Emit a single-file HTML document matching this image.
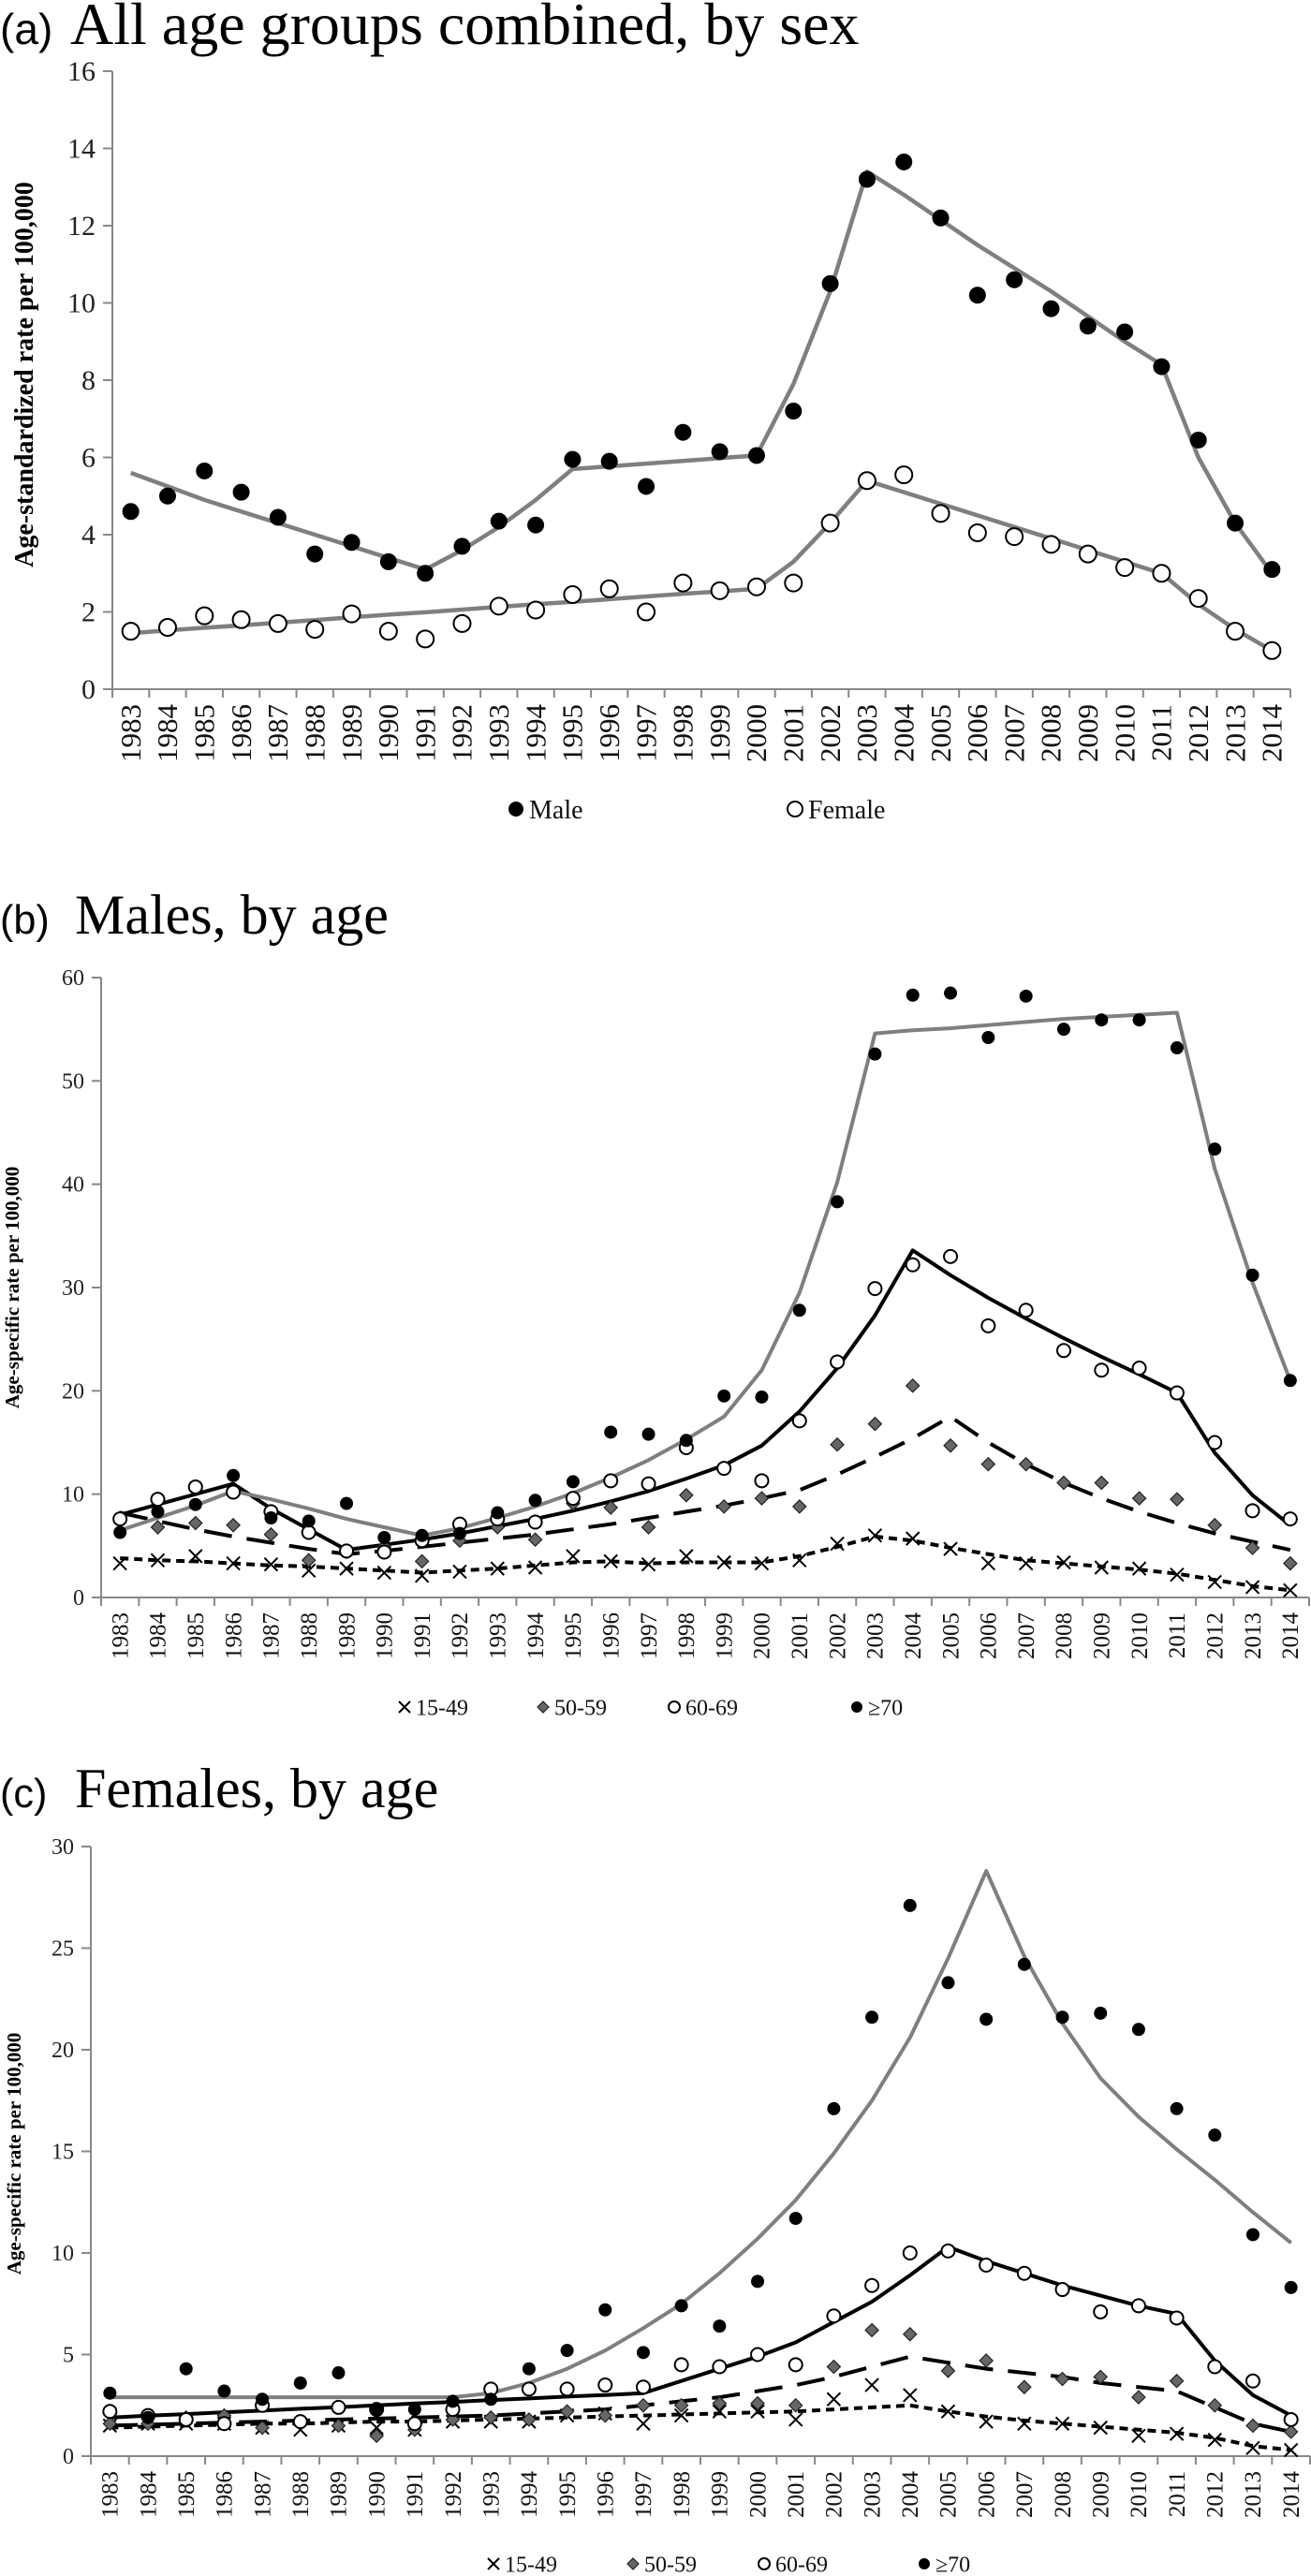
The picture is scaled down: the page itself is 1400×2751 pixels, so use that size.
<!DOCTYPE html>
<html><head><meta charset="utf-8"><style>
html,body{margin:0;padding:0;background:#fff}
svg{display:block}
</style></head><body>
<svg id="fig" xmlns="http://www.w3.org/2000/svg" width="1400" height="2751" viewBox="0 0 1400 2751">
<g id="pa"></g>
<g id="pb"></g>
<g id="pc"></g>
</svg>
<script>
const years=[1983,1984,1985,1986,1987,1988,1989,1990,1991,1992,1993,1994,1995,1996,1997,1998,1999,2000,2001,2002,2003,2004,2005,2006,2007,2008,2009,2010,2011,2012,2013,2014];
// Panel A
const aMale=[4.6,5.0,5.65,5.1,4.45,3.5,3.8,3.3,3.0,3.7,4.35,4.25,5.95,5.9,5.25,6.65,6.15,6.05,7.2,10.5,13.2,13.65,12.2,10.2,10.6,9.85,9.4,9.25,8.35,6.45,4.3,3.1];
const aMaleFit=[5.6,5.25,4.9,4.6,4.3,4.0,3.7,3.4,3.1,3.6,4.2,4.9,5.7,5.77,5.84,5.91,5.98,6.05,7.9,10.3,13.4,12.8,12.15,11.5,10.9,10.3,9.65,9.0,8.4,6.0,4.3,3.0];
const aFemale=[1.5,1.6,1.9,1.8,1.7,1.55,1.95,1.5,1.3,1.7,2.15,2.05,2.45,2.6,2.0,2.75,2.55,2.65,2.75,4.3,5.4,5.55,4.55,4.05,3.95,3.75,3.5,3.15,3.0,2.35,1.5,1.0];
const aFemaleFit=[1.45,1.52,1.59,1.65,1.72,1.79,1.86,1.93,1.99,2.06,2.13,2.2,2.26,2.33,2.4,2.47,2.53,2.6,3.3,4.3,5.4,5.1,4.8,4.5,4.2,3.9,3.6,3.3,3.0,2.2,1.55,1.0];
const aTicks=[0,2,4,6,8,10,12,14,16];
// Panel B (males)
const b70=[6.3,8.3,9.0,11.8,7.7,7.4,9.1,5.8,6.0,6.2,8.2,9.4,11.2,16.0,15.8,15.2,19.5,19.4,27.8,38.3,52.6,58.3,58.5,54.2,58.2,55.0,55.9,55.9,53.2,43.4,31.2,21.0];
const b70Fit=[6.5,7.7,8.9,10.3,9.5,8.6,7.6,6.8,6.0,6.7,7.7,8.8,10.1,11.6,13.3,15.3,17.5,22.0,29.5,40.2,54.6,54.9,55.1,55.4,55.7,56.0,56.2,56.4,56.6,41.5,30.5,21.0];
const b60=[7.6,9.5,10.7,10.2,8.3,6.3,4.5,4.4,5.5,7.1,7.6,7.3,9.6,11.3,11.0,14.5,12.5,11.3,17.1,22.8,29.9,32.2,33.0,26.3,27.8,23.9,22.0,22.2,19.8,15.0,8.4,7.6];
const b60Fit=[8.0,9.0,10.0,11.0,8.6,6.6,4.6,5.1,5.6,6.2,6.9,7.6,8.4,9.3,10.3,11.5,12.8,14.7,18.0,22.2,27.3,33.6,31.2,29.0,27.0,25.1,23.3,21.6,19.8,14.0,9.9,7.0];
const b50=[7.7,6.8,7.2,7.0,6.1,3.6,4.4,4.9,3.5,5.5,6.8,5.6,9.1,8.7,6.8,9.9,8.8,9.6,8.8,14.8,16.8,20.5,14.7,12.9,12.9,11.1,11.1,9.6,9.5,7.0,4.8,3.3];
const b50Fit=[8.2,7.4,6.6,5.9,5.3,4.7,4.2,4.5,4.9,5.3,5.7,6.1,6.6,7.1,7.7,8.3,8.9,9.6,10.4,11.9,13.6,15.4,17.5,15.0,12.9,11.1,9.6,8.3,7.2,6.2,5.4,4.6];
const b15=[3.3,3.6,4.0,3.3,3.2,2.6,2.8,2.4,2.1,2.5,2.8,2.9,4.0,3.5,3.2,4.0,3.4,3.3,3.6,5.2,6.0,5.7,4.7,3.3,3.3,3.4,2.9,2.8,2.2,1.5,1.0,0.7];
const b15Fit=[3.8,3.6,3.5,3.3,3.1,3.0,2.8,2.6,2.4,2.6,2.8,3.1,3.4,3.5,3.3,3.4,3.4,3.4,4.0,4.9,5.9,5.5,4.8,4.2,3.6,3.3,3.0,2.7,2.3,1.7,1.1,0.7];
const bTicks=[0,10,20,30,40,50,60];
// Panel C (females)
const c70=[3.1,1.9,4.3,3.2,2.8,3.6,4.1,2.3,2.3,2.7,2.8,4.3,5.2,7.2,5.1,7.4,6.4,8.6,11.7,17.1,21.6,27.1,23.3,21.5,24.2,21.6,21.8,21.0,17.1,15.8,10.9,8.3];
const c70Fit=[2.9,2.9,2.9,2.9,2.9,2.9,2.9,2.9,2.9,2.9,3.1,3.6,4.3,5.2,6.3,7.5,9.0,10.7,12.6,14.9,17.5,20.6,24.5,28.8,24.6,21.3,18.6,16.7,15.1,13.6,12.0,10.5];
const c60=[2.2,2.0,1.8,1.6,2.5,1.7,2.4,2.3,1.6,2.3,3.3,3.3,3.3,3.5,3.4,4.5,4.4,5.0,4.5,6.9,8.4,10.0,10.1,9.4,9.0,8.2,7.1,7.4,6.8,4.4,3.7,1.8];
const c60Fit=[1.9,1.99,2.07,2.16,2.24,2.33,2.41,2.5,2.59,2.67,2.76,2.84,2.93,3.01,3.1,3.7,4.3,4.9,5.6,6.6,7.6,8.9,10.3,9.6,9.0,8.4,7.9,7.4,7.0,4.7,3.0,2.0];
const c50=[1.6,1.6,1.9,2.0,1.4,1.6,1.5,1.0,1.3,1.8,1.9,1.8,2.2,2.0,2.5,2.5,2.6,2.6,2.5,4.4,6.2,6.0,4.2,4.7,3.4,3.8,3.9,2.9,3.7,2.5,1.5,1.2];
const c50Fit=[1.5,1.55,1.6,1.65,1.7,1.75,1.8,1.85,1.9,1.95,2.0,2.1,2.2,2.3,2.5,2.7,2.9,3.2,3.5,3.9,4.4,4.9,4.6,4.3,4.1,3.9,3.6,3.4,3.2,2.4,1.6,1.2];
const c15=[1.5,1.6,1.6,1.6,1.4,1.3,1.5,1.4,1.3,1.7,1.7,1.7,2.0,2.1,1.6,2.0,2.2,2.2,1.8,2.8,3.5,3.0,2.2,1.7,1.6,1.6,1.4,1.0,1.1,0.8,0.4,0.3];
const c15Fit=[1.4,1.45,1.5,1.55,1.6,1.6,1.65,1.7,1.7,1.75,1.8,1.85,1.9,1.95,2.0,2.05,2.1,2.15,2.2,2.3,2.4,2.5,2.2,1.95,1.75,1.6,1.45,1.3,1.15,0.9,0.5,0.3];
const cTicks=[0,5,10,15,20,25,30];

const SERIF='"Liberation Serif", serif';
const SANS='"Liberation Sans", sans-serif';
const NS='http://www.w3.org/2000/svg';
function mk(parent,tag,attrs,text){const e=document.createElementNS(NS,tag);for(const k in attrs)e.setAttribute(k,attrs[k]);if(text!==undefined)e.textContent=text;parent.appendChild(e);return e;}

function marker(g,type,x,y,r){
  let e;
  if(type==='dot'){e=mk(g,'circle',{cx:x,cy:y,r:r,fill:'#000'});}
  else if(type==='ring'){e=mk(g,'circle',{cx:x,cy:y,r:r,fill:'#fff',stroke:'#000','stroke-width':2});}
  else if(type==='diamond'){e=mk(g,'polygon',{points:`${x},${y-r} ${x+r},${y} ${x},${y+r} ${x-r},${y}`,fill:'#666',stroke:'#222','stroke-width':1.2});}
  else {e=mk(g,'path',{d:`M${x-r},${y-r}L${x+r},${y+r}M${x-r},${y+r}L${x+r},${y-r}`,stroke:'#000','stroke-width':2,fill:'none'});}
  return e;
}

function panel(gid,cfg){
  const g=document.getElementById(gid);
  const n=years.length, step=(cfg.x1-cfg.x0)/n;
  const xs=i=>cfg.x0+step*(i+0.5);
  const ys=v=>cfg.yZero-(cfg.yZero-cfg.yTop)*v/cfg.yMax;
  const t=mk(g,'text',{x:0,y:cfg.titleY,'font-size':cfg.titleSize});
  
  
  mk(t,'tspan',{'font-family':SANS,'font-size':cfg.titleSize*0.72},cfg.letter);
  mk(t,'tspan',{'font-family':SERIF,x:cfg.titleX},cfg.title);
  const ax=mk(g,'g',{stroke:'#888','stroke-width':2,fill:'none'});
  
  
  mk(ax,'line',{x1:cfg.x0,y1:cfg.yTop,x2:cfg.x0,y2:cfg.yZero});
  mk(ax,'line',{x1:cfg.x0-10,y1:cfg.yZero,x2:cfg.x1,y2:cfg.yZero});
  cfg.ticks.forEach(v=>{mk(ax,'line',{x1:cfg.x0-10,y1:ys(v),x2:cfg.x0,y2:ys(v)});});
  for(let i=0;i<=n;i++){mk(ax,'line',{x1:cfg.x0+step*i,y1:cfg.yZero,x2:cfg.x0+step*i,y2:cfg.yZero+9});}
  cfg.ticks.forEach(v=>{
    const e=mk(g,'text',{x:cfg.x0-18,y:ys(v)+cfg.tickSize*0.33,'text-anchor':'end','font-size':cfg.tickSize,fill:'#222','font-family':SERIF},String(v));
    
    
  });
  years.forEach((yr,i)=>{
    const x=xs(i)+cfg.yearSize*0.33, y=cfg.yZero+16;
    const e=mk(g,'text',{x:x,y:y,transform:`rotate(-90 ${x} ${y})`,'text-anchor':'end','font-size':cfg.yearSize,fill:'#111','font-family':SERIF},String(yr));
    
    
  });
  const yt=mk(g,'text',{x:cfg.yTitleX,y:cfg.yTitleY,transform:`rotate(-90 ${cfg.yTitleX} ${cfg.yTitleY})`,'text-anchor':'middle','font-size':cfg.yTitleSize,'font-weight':'bold','font-family':SERIF},cfg.yTitle);
  
  
  cfg.series.forEach(sr=>{
    const sg=mk(g,'g',{});
    
    
    const d=sr.fit.map((v,i)=>(i?'L':'M')+xs(i).toFixed(1)+','+ys(v).toFixed(1)).join('');
    const p=mk(sg,'path',{d:d,fill:'none',stroke:sr.color,'stroke-width':sr.w,'stroke-dasharray':sr.dash||'none','stroke-linejoin':'round'});
    
    
  });
  cfg.series.forEach(sr=>{
    const mg=mk(g,'g',{});
    
    
    sr.pts.forEach((v,i)=>{
      const m=marker(mg,sr.marker,xs(i),ys(v),cfg.r);
      
      
    });
  });
  const lg=mk(g,'g',{});
  
  
  cfg.series.forEach((sr,k)=>{
    const eg=mk(lg,'g',{});
    
    
    const lx=cfg.legendX[k];
    marker(eg,sr.marker,lx,cfg.legendY,cfg.legR);
    mk(eg,'text',{x:lx+cfg.legR+6,y:cfg.legendY+cfg.legSize*0.35,'font-size':cfg.legSize,'font-family':SERIF,fill:'#111'},sr.label);
  });
}

panel('pa',{letter:'(a)',title:'All age groups combined, by sex',titleX:75,titleY:47,titleSize:64,
  x0:120,x1:1378,yZero:736,yTop:76,yMax:16,ticks:aTicks,tickSize:30,yearSize:31,r:9,
  yTitle:'Age-standardized rate per 100,000',yTitleX:35,yTitleY:400,yTitleSize:28,
  legendX:[551,849],legendY:864,legR:8,legSize:28,
  series:[
    {name:'male',label:'Male',pts:aMale,fit:aMaleFit,marker:'dot',color:'#7f7f7f',w:4.5},
    {name:'female',label:'Female',pts:aFemale,fit:aFemaleFit,marker:'ring',color:'#7f7f7f',w:4.5}
  ]});

panel('pb',{letter:'(b)',title:'Males, by age',titleX:80,titleY:997,titleSize:60,
  x0:108,x1:1398,yZero:1706,yTop:1044,yMax:60,ticks:bTicks,tickSize:24,yearSize:25,r:7,
  yTitle:'Age-specific rate per 100,000',yTitleX:20,yTitleY:1375,yTitleSize:21,
  legendX:[432,580,720,915],legendY:1823,legR:6,legSize:24,
  series:[
    {name:'15-49',label:'15-49',pts:b15,fit:b15Fit,marker:'x',color:'#000',w:4,dash:'9,6'},
    {name:'50-59',label:'50-59',pts:b50,fit:b50Fit,marker:'diamond',color:'#000',w:4,dash:'30,16'},
    {name:'60-69',label:'60-69',pts:b60,fit:b60Fit,marker:'ring',color:'#000',w:4},
    {name:'70plus',label:'\u226570',pts:b70,fit:b70Fit,marker:'dot',color:'#7f7f7f',w:4}
  ]});

panel('pc',{letter:'(c)',title:'Females, by age',titleX:80,titleY:1930,titleSize:60,
  x0:97,x1:1399,yZero:2623,yTop:1972,yMax:30,ticks:cTicks,tickSize:24,yearSize:25,r:7,
  yTitle:'Age-specific rate per 100,000',yTitleX:22,yTitleY:2300,yTitleSize:21,
  legendX:[527,676,816,987],legendY:2738,legR:6,legSize:24,
  series:[
    {name:'15-49',label:'15-49',pts:c15,fit:c15Fit,marker:'x',color:'#000',w:4,dash:'9,6'},
    {name:'50-59',label:'50-59',pts:c50,fit:c50Fit,marker:'diamond',color:'#000',w:4,dash:'30,16'},
    {name:'60-69',label:'60-69',pts:c60,fit:c60Fit,marker:'ring',color:'#000',w:4},
    {name:'70plus',label:'\u226570',pts:c70,fit:c70Fit,marker:'dot',color:'#7f7f7f',w:4}
  ]});
</script>
</body></html>
